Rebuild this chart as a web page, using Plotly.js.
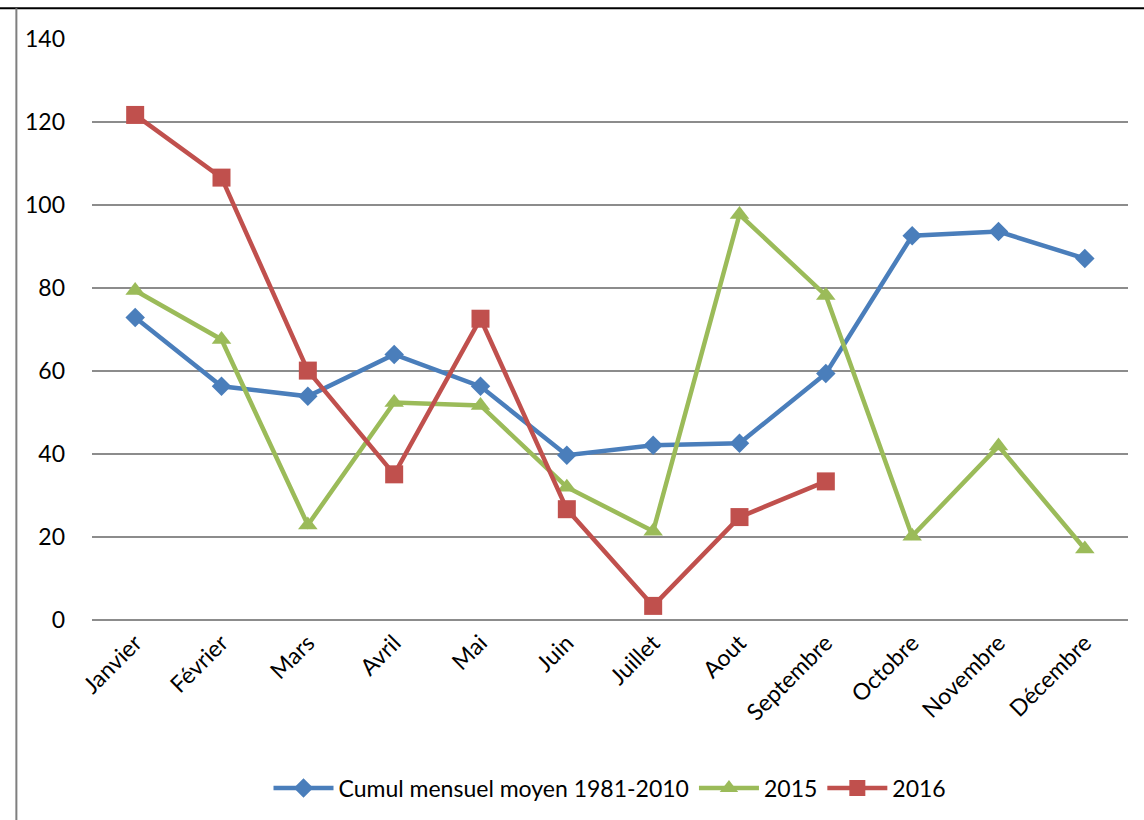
<!DOCTYPE html>
<html><head><meta charset="utf-8">
<script src="https://cdn.plot.ly/plotly-3.0.1.min.js"></script>
<style>html,body{margin:0;padding:0;background:#fff}#chart{width:1144px;height:820px}</style>
</head><body><div id="chart"></div>
<script>
const months = ["Janvier","Février","Mars","Avril","Mai","Juin","Juillet","Aout","Septembre","Octobre","Novembre","Décembre"];
const moyenne = [72.9,56.3,53.9,64.0,56.3,39.7,42.1,42.6,59.4,92.6,93.6,87.1];
const y2015 = [79.4,67.6,22.9,52.4,51.7,32.0,21.4,97.7,78.2,20.2,41.9,17.1];
const y2016 = [121.7,106.6,60.1,35.1,72.6,26.7,3.4,24.8,33.4];
const yTicks = [0,20,40,60,80,100,120,140];

const font = "Lato, 'Open Sans', sans-serif";
const traces = [
  {x: months, y: moyenne, name: "Cumul mensuel moyen 1981-2010", mode: "lines+markers",
   line: {color: "#4a7ebb", width: 4.5}, marker: {symbol: "diamond", size: 15, color: "#4a7ebb"}},
  {x: months.slice(0, y2015.length), y: y2015, name: "2015", mode: "lines+markers",
   line: {color: "#9bbb59", width: 4.5}, marker: {symbol: "triangle-up", size: 17, color: "#9bbb59"}},
  {x: months.slice(0, y2016.length), y: y2016, name: "2016", mode: "lines+markers",
   line: {color: "#c0504d", width: 4.5}, marker: {symbol: "square", size: 18, color: "#c0504d"}}
];
const layout = {
  width: 1144, height: 820,
  margin: {l: 92, r: 16, t: 39, b: 199},
  paper_bgcolor: "#fff", plot_bgcolor: "#fff",
  font: {family: font, size: 22, color: "#000"},
  showlegend: true,
  legend: {orientation: "h", x: 0.5, xanchor: "center", y: -0.25, yanchor: "top",
           font: {family: font, size: 23, color: "#000"}, itemwidth: 60, tracegroupgap: 0},
  xaxis: {type: "category", categoryorder: "array", categoryarray: months,
          range: [-0.5, 11.5], tickangle: -45, showgrid: false, zeroline: false,
          showline: false, ticks: "", ticklabelstandoff: 4, tickfont: {family: font, size: 23}},
  yaxis: {range: [0, 140], tickvals: yTicks, ticktext: yTicks.map(String),
          showgrid: true, gridcolor: "#8c8c8c", gridwidth: 1.5, zeroline: true,
          zerolinecolor: "#8c8c8c", zerolinewidth: 2, showline: false, ticks: "",
          ticklabelstandoff: 26, tickfont: {family: font, size: 23}},
  shapes: [
    {type: "line", xref: "paper", yref: "paper", x0: -0.09, x1: 1.02, y0: 1.053, y1: 1.053,
     line: {color: "#000", width: 2}},
    {type: "line", xref: "paper", yref: "paper", x0: -0.073, x1: -0.073, y0: 1.053, y1: -0.35,
     line: {color: "#7f7f7f", width: 2}}
  ]
};
Plotly.newPlot("chart", traces, layout, {displayModeBar: false, staticPlot: true});
</script></body></html>
